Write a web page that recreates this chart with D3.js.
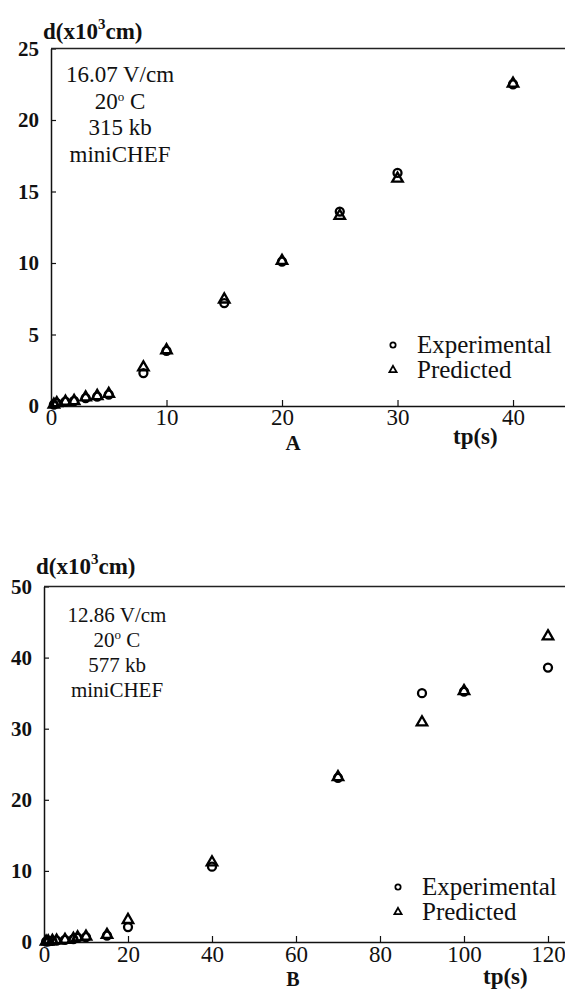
<!DOCTYPE html>
<html>
<head>
<meta charset="utf-8">
<script src="https://cdn.jsdelivr.net/npm/d3@7"></script>
<style>
  html, body { margin: 0; padding: 0; background: #fff; }
  svg { display: block; }
  svg text { font-family: "Liberation Serif", Tinos, "Times New Roman", "DejaVu Serif", serif; fill: #111; }
</style>
</head>
<body>
<div id="chart"></div>
<script>
// ---- data, panel A (16.07 V/cm, 315 kb) ----
const tpA = [0.25, 0.5, 1.25, 2, 3, 4, 5, 8, 10, 15, 20, 25, 30, 40];
const expA = [0.1, 0.2, 0.3, 0.35, 0.55, 0.65, 0.8, 2.3, 3.85, 7.2, 10.1, 13.6, 16.3, 22.5];
const predA = [0.1, 0.2, 0.3, 0.35, 0.6, 0.7, 0.85, 2.7, 3.9, 7.45, 10.15, 13.3, 15.9, 22.55];
const xTicksA = [0, 10, 20, 30, 40];
const yTicksA = [0, 5, 10, 15, 20, 25];
const notesA = ["16.07 V/cm", "20°C", "315  kb", "miniCHEF"];

// ---- data, panel B (12.86 V/cm, 577 kb) ----
const tpB = [0.5, 1, 2, 3, 5, 7, 8, 10, 15, 20, 40, 70, 90, 100, 120];
const expB = [0.05, 0.1, 0.15, 0.2, 0.3, 0.4, 0.6, 0.7, 0.9, 2.1, 10.6, 23.1, 35.0, 35.2, 38.6];
const predB = [0.05, 0.1, 0.15, 0.2, 0.3, 0.45, 0.65, 0.75, 1.0, 3.1, 11.2, 23.2, 30.9, 35.3, 43.0];
const xTicksB = [0, 20, 40, 60, 80, 100, 120];
const yTicksB = [0, 10, 20, 30, 40, 50];
const notesB = ["12.86 V/cm", "20°C", "577  kb", "miniCHEF"];

const legendLabels = ["Experimental", "Predicted"];

const FONT = '"Liberation Serif", Tinos, "Times New Roman", "DejaVu Serif", serif';
const W = 565, H = 992;
const svg = d3.select('#chart').append('svg')
    .attr('width', W).attr('height', H)
    .style('font-family', FONT);

const circleSym = d3.symbol(d3.symbolCircle, 50);
const triSym = d3.symbol(d3.symbolTriangle, 48);

function drawPanel(p) {
    const x = d3.scaleLinear().domain(p.xDomain).range([p.left, W]);
    const y = d3.scaleLinear().domain(p.yDomain).range([p.bottom, p.top]);
    const g = svg.append('g');

    // y axis, ticks pointing inward
    const yAxis = g.append('g')
        .attr('transform', `translate(${p.left},0)`)
        .call(d3.axisLeft(y).tickValues(p.yTicks).tickSizeInner(-5).tickSizeOuter(0).tickPadding(12));
    yAxis.attr('font-family', null);
    yAxis.select('.domain').attr('stroke', '#111').attr('stroke-width', 1.5);
    yAxis.selectAll('.tick line').attr('stroke', '#111').attr('stroke-width', 1.2);
    yAxis.selectAll('.tick text')
        .attr('font-size', 21).attr('font-weight', 'bold')
        .style('font-family', FONT).attr('fill', '#111');

    // x axis
    const xAxis = g.append('g')
        .attr('transform', `translate(0,${p.bottom})`)
        .call(d3.axisBottom(x).tickValues(p.xTicks).tickSizeInner(-6).tickSizeOuter(0).tickPadding(p.xPad));
    xAxis.attr('font-family', null);
    xAxis.select('.domain').attr('stroke', '#111').attr('stroke-width', 1.5);
    xAxis.selectAll('.tick line').attr('stroke', '#111').attr('stroke-width', 1.2);
    xAxis.selectAll('.tick text')
        .attr('font-size', 23)
        .style('font-family', FONT).attr('fill', '#111');

    // top frame line
    g.append('line')
        .attr('x1', p.left).attr('x2', W)
        .attr('y1', y(p.yDomain[1])).attr('y2', y(p.yDomain[1]))
        .attr('stroke', '#222').attr('stroke-width', 1.5);

    // axis title
    const title = g.append('text').attr('x', p.left - 8).attr('y', p.titleY)
        .attr('font-size', 23).attr('font-weight', 'bold');
    title.append('tspan').text('d(x10');
    title.append('tspan').attr('dy', -10).attr('font-size', 15).text('3');
    title.append('tspan').attr('dy', 10).text('cm)');

    // condition notes
    p.notes.forEach((t, i) => {
        const txt = g.append('text')
            .attr('x', p.noteX).attr('y', p.noteY0 + i * p.noteStep)
            .attr('text-anchor', 'middle').attr('font-size', p.noteSize);
        if (t.includes('°')) {
            const parts = t.split('°');
            txt.append('tspan').text(parts[0]);
            txt.append('tspan').attr('dy', -8).attr('font-size', 13).text('o');
            txt.append('tspan').attr('dy', 8).text(' ' + parts[1]);
        } else {
            txt.text(t);
        }
    });

    // data points
    const pts = p.tp.map((t, i) => ({ t, e: p.exp[i], pr: p.pred[i] }));
    g.append('g').selectAll('path.pred').data(pts).join('path')
        .attr('class', 'pred')
        .attr('d', triSym)
        .attr('transform', d => `translate(${x(d.t)},${y(d.pr)})`)
        .attr('fill', 'none').attr('stroke', '#000').attr('stroke-width', 2.3);
    g.append('g').selectAll('path.exp').data(pts).join('path')
        .attr('class', 'exp')
        .attr('d', circleSym)
        .attr('transform', d => `translate(${x(d.t)},${y(d.e)})`)
        .attr('fill', 'none').attr('stroke', '#000').attr('stroke-width', 2.3);

    // legend
    const lg = g.append('g');
    legendLabels.forEach((lab, i) => {
        const cy = p.legY0 + i * 25;
        lg.append('path')
            .attr('d', i === 0 ? d3.symbol(d3.symbolCircle, 22)() : d3.symbol(d3.symbolTriangle, 22)())
            .attr('transform', `translate(${p.legX},${cy})`)
            .attr('fill', 'none').attr('stroke', '#000').attr('stroke-width', 1.8);
        lg.append('text').attr('x', p.legX + 24).attr('y', cy + 8)
            .attr('font-size', 25).text(lab);
    });

    // x axis title and panel letter
    g.append('text').attr('x', p.tpX).attr('y', p.tpY)
        .attr('font-size', 23).attr('font-weight', 'bold').text('tp(s)');
    g.append('text').attr('x', 293).attr('y', p.letterY)
        .attr('text-anchor', 'middle').attr('font-size', p.letterSize).attr('font-weight', 'bold')
        .text(p.letter);
}

drawPanel({
    tp: tpA, exp: expA, pred: predA, xTicks: xTicksA, yTicks: yTicksA, notes: notesA,
    xDomain: [0, 44.5], yDomain: [0, 25],
    left: 51, top: 48.5, bottom: 406, xPad: 3,
    titleY: 39, noteX: 120, noteY0: 82, noteStep: 26.7, noteSize: 23,
    legX: 393, legY0: 345, tpX: 453, tpY: 444, letter: 'A', letterY: 450, letterSize: 21
});

drawPanel({
    tp: tpB, exp: expB, pred: predB, xTicks: xTicksB, yTicks: yTicksB, notes: notesB,
    xDomain: [0, 124.05], yDomain: [0, 50],
    left: 44, top: 586.5, bottom: 942, xPad: 4,
    titleY: 574, noteX: 117, noteY0: 622, noteStep: 25, noteSize: 21,
    legX: 398, legY0: 887, tpX: 483, tpY: 984, letter: 'B', letterY: 986, letterSize: 20
});
</script>
</body>
</html>
